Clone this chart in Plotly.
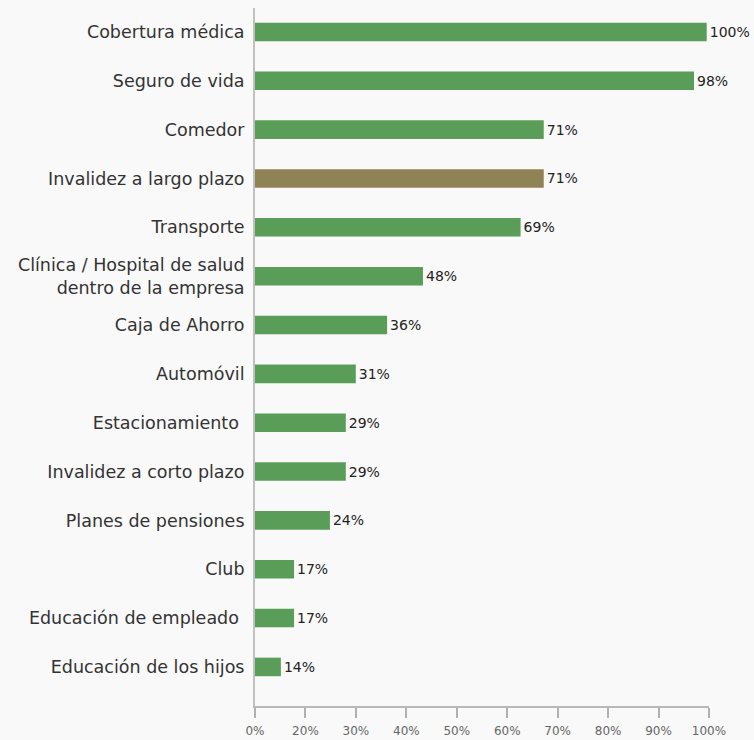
import plotly.graph_objects as go

categories = [
    "Cobertura médica",
    "Seguro de vida",
    "Comedor",
    "Invalidez a largo plazo",
    "Transporte",
    "Clínica / Hospital de salud<br>dentro de la empresa",
    "Caja de Ahorro",
    "Automóvil",
    "Estacionamiento\u00a0",
    "Invalidez a corto plazo",
    "Planes de pensiones",
    "Club",
    "Educación de empleado\u00a0",
    "Educación de los hijos",
]
# bar lengths as drawn (axis units 0-100)
bar_values = [99.5, 96.7, 63.6, 63.6, 58.5, 37.0, 29.1, 22.2, 20.0, 20.0, 16.5, 8.6, 8.6, 5.7]
# value labels as printed
value_labels = ["100%", "98%", "71%", "71%", "69%", "48%", "36%", "31%", "29%", "29%", "24%", "17%", "17%", "14%"]
highlight = [False, False, False, True, False, False, False, False, False, False, False, False, False, False]
tick_labels = ["0%", "20%", "30%", "40%", "50%", "60%", "70%", "80%", "90%", "100%"]

GREEN = "#599d58"
BROWN = "#8f8254"
BG = "#f9f9f9"
colors = [BROWN if h else GREEN for h in highlight]

n_ticks = len(tick_labels)
tick_vals = [i * 100 / (n_ticks - 1) for i in range(n_ticks)]

FONT = "DejaVu Sans, sans-serif"

fig = go.Figure(
    go.Bar(
        x=bar_values,
        y=categories,
        orientation="h",
        marker=dict(color=colors, line=dict(width=0)),
        width=0.38,
        text=value_labels,
        textposition="outside",
        constraintext="none",
        textfont=dict(family=FONT, size=14, color="#222222"),
        cliponaxis=False,
        hoverinfo="skip",
    )
)

fig.update_layout(
    width=754,
    height=740,
    margin=dict(l=255, r=45, t=8, b=34),
    paper_bgcolor=BG,
    plot_bgcolor=BG,
    showlegend=False,
    font=dict(family=FONT),
    xaxis=dict(
        range=[0, 100],
        tickvals=tick_vals,
        ticktext=tick_labels,
        showgrid=False,
        zeroline=False,
        showline=True,
        linecolor="#b8b8b8",
        linewidth=2,
        ticks="outside",
        ticklen=10,
        tickwidth=1.5,
        tickcolor="#b0b0b0",
        ticklabelstandoff=3,
        tickfont=dict(family=FONT, size=12, color="#666666"),
        automargin=False,
    ),
    yaxis=dict(
        type="category",
        categoryorder="array",
        categoryarray=categories,
        range=[13.8, -0.49],
        showgrid=False,
        zeroline=False,
        showline=True,
        linecolor="#c0c0c0",
        linewidth=2,
        ticks="",
        ticklabelstandoff=5,
        tickfont=dict(family=FONT, size=17.5, color="#333333"),
        automargin=False,
    ),
)

post_js = (
    "document.body.style.margin='0';"
    "document.body.style.padding='0';"
    "document.body.style.background='" + BG + "';"
    "document.documentElement.style.background='" + BG + "';"
)

fig.write_html("out.html", post_script=post_js, config={"displayModeBar": False})
